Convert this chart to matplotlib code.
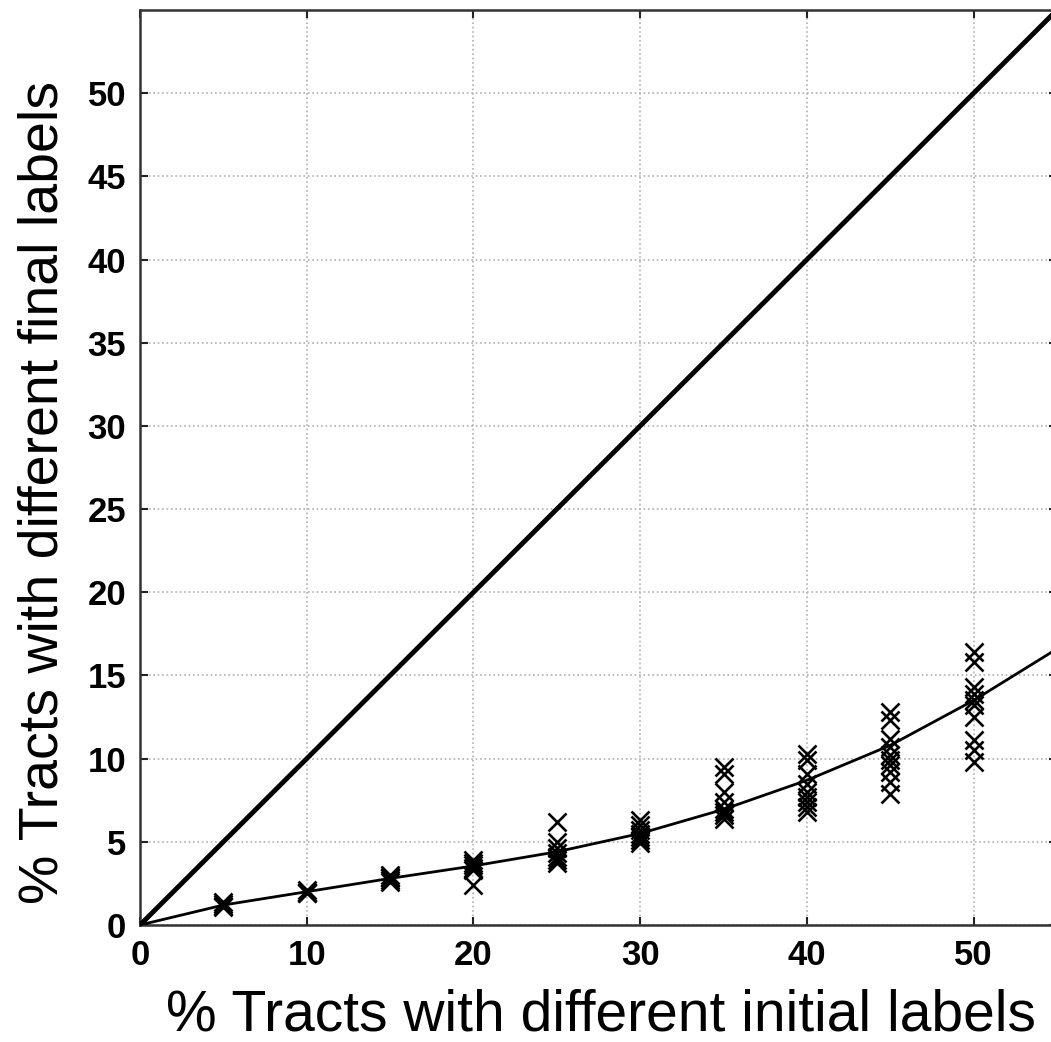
import numpy as np
import matplotlib
matplotlib.use("Agg")
import matplotlib.pyplot as plt

plt.rcParams["font.family"] = ["Liberation Sans", "DejaVu Sans"]

# initial label mismatch (%) and repeated trial results (%)
init_pct = [0, 5, 10, 15, 20, 25, 30, 35, 40, 45, 50]
trial_results = [
    [0.0, 0.0],
    [1.4, 1.25, 1.15, 1.1],
    [2.1, 2.0, 1.95, 1.9],
    [3.0, 2.9, 2.8, 2.7, 2.6],
    [3.9, 3.7, 3.6, 3.4, 3.3, 2.4],
    [6.2, 5.0, 4.6, 4.3, 4.1, 3.9, 3.7],
    [6.3, 6.0, 5.7, 5.5, 5.3, 5.1, 4.9],
    [9.5, 9.1, 8.0, 7.4, 7.0, 6.8, 6.6, 6.4],
    [10.3, 9.9, 9.1, 8.5, 8.0, 7.7, 7.4, 7.1, 6.8],
    [12.8, 12.3, 11.2, 10.7, 10.2, 9.9, 9.6, 9.2, 8.6, 7.9],
    [16.4, 15.8, 14.3, 13.9, 13.5, 13.2, 12.5, 11.1, 10.5, 9.8],
]

# fitted curve
fit_x = [0, 5, 10, 15, 20, 25, 30, 35, 40, 45, 50, 55]
fit_y = [0, 1.2, 2.0, 2.8, 3.55, 4.4, 5.5, 6.95, 8.7, 10.8, 13.5, 16.6]

# identity reference
diag = [0, 55]

fig = plt.figure(figsize=(10.51, 10.42), dpi=100)
ax = fig.add_axes([140 / 1051, 117 / 1042, 917 / 1051, 915 / 1042])

ax.plot(diag, diag, color="black", lw=3.5, zorder=3)
ax.plot(fit_x, fit_y, color="black", lw=2.0, zorder=3)
for x, ys in zip(init_pct, trial_results):
    ax.plot([x] * len(ys), ys, linestyle="none", marker="x", ms=13,
            mew=1.9, color="black", zorder=4)

ax.set_xlim(0, 55)
ax.set_ylim(0, 55)
ax.set_xticks(np.arange(0, 51, 10))
ax.set_yticks(np.arange(0, 51, 5))
ax.grid(True, linestyle=":", color="#b0b0b0", lw=1.2)
ax.tick_params(direction="in", length=6, width=1.5, top=True, right=True,
               labelsize=25, pad=10, colors="#222222")
for lab in ax.get_xticklabels() + ax.get_yticklabels():
    lab.set_fontweight("bold")
    lab.set_color("black")
for s in ax.spines.values():
    s.set_linewidth(1.8)
    s.set_color("#333333")

ax.set_xlabel("% Tracts with different initial labels", fontsize=41, va="baseline")
ax.set_ylabel("% Tracts with different final labels", fontsize=40, va="center")
ax.xaxis.set_label_coords(0.503, -0.1148)
ax.yaxis.set_label_coords(-0.105, 0.473)

fig.savefig("out.png", dpi=100)
